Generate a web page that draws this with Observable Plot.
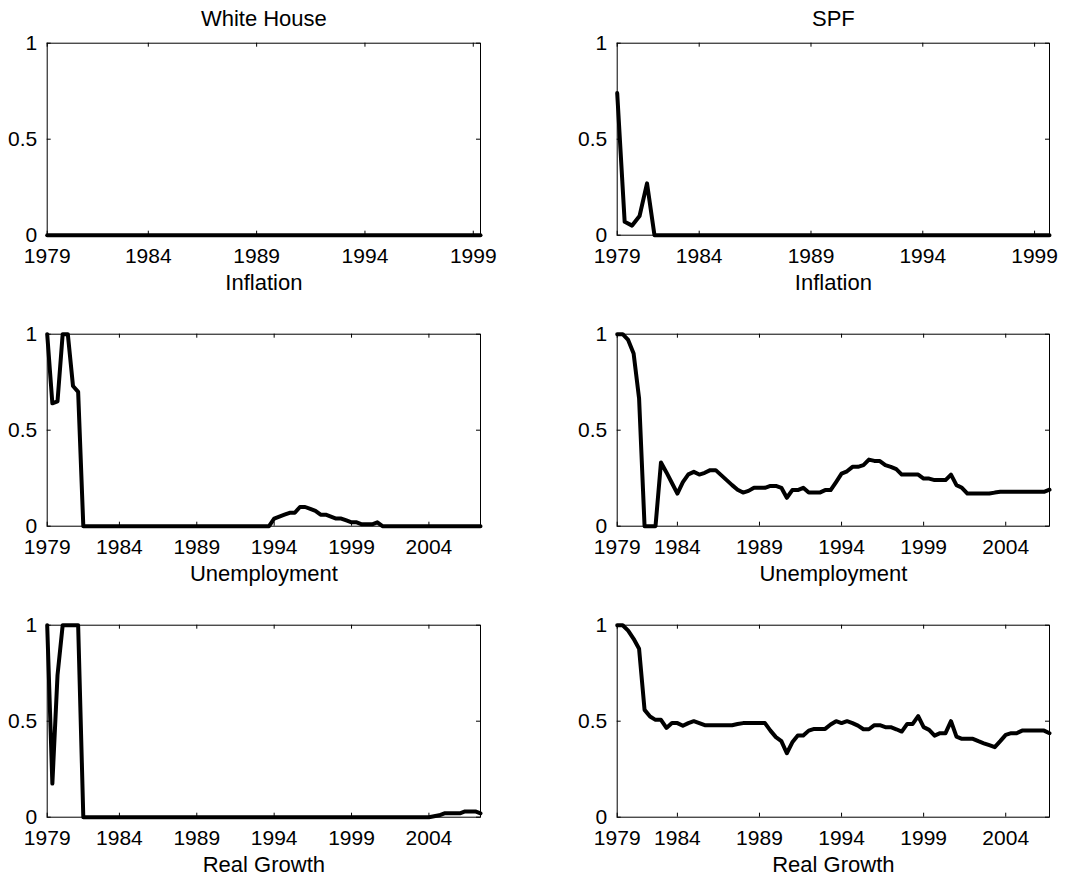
<!DOCTYPE html>
<html><head><meta charset="utf-8">
<script src="https://cdn.jsdelivr.net/npm/d3@7"></script>
<script src="https://cdn.jsdelivr.net/npm/@observablehq/plot@0.6"></script>
<style>
body{margin:0;background:#fff;}
#chart{position:relative;width:1065px;height:879px;background:#fff;}
#chart svg{position:absolute;overflow:visible;background:transparent;}
</style></head><body><div id="chart"></div>
<script>
// ---------- data ----------
const columnTitles = ["White House", "SPF"];
const rowLabels = ["Inflation", "Unemployment", "Real Growth"];
const yTicks = [0, 0.5, 1];
const yTickLabels = ["0", "0.5", "1"];
const xTickLabels = ["1979", "1984", "1989", "1994", "1999", "2004"];
const xTickYears = [1984, 1989, 1994, 1999, 2004];
const obsPerYear = 3;            // observations every third of a year
const whStart = 1979 + 1 / 3;    // first White House observation
const spfStart = 1980 + 1 / 3;   // first SPF observation

const whInflation = [
  0,0,0,0,0,0,0,0,0,0,
  0,0,0,0,0,0,0,0,0,0,
  0,0,0,0,0,0,0,0,0,0,
  0,0,0,0,0,0,0,0,0,0,
  0,0,0,0,0,0,0,0,0,0,
  0,0,0,0,0,0,0,0,0,0,
  0
];
const spfInflation = [
  0.74,0.07,0.05,0.10,0.27,0,
  0,0,0,0,0,0,0,0,0,0,
  0,0,0,0,0,0,0,0,0,0,
  0,0,0,0,0,0,0,0,0,0,
  0,0,0,0,0,0,0,0,0,0,
  0,0,0,0,0,0,0,0,0,0,
  0,0,0
];
const whUnemployment = [
  1,0.64,0.65,1,1,0.73,0.70,0,
  0,0,0,0,0,0,0,0,0,0,
  0,0,0,0,0,0,0,0,0,0,
  0,0,0,0,0,0,0,0,0,0,
  0,0,0,0,0,0,
  0.04,0.05,0.06,0.07,0.07,0.10,0.10,0.09,0.08,0.06,
  0.06,0.05,0.04,0.04,0.03,0.02,0.02,0.01,0.01,0.01,
  0.02,
  0,0,0,0,0,0,0,0,0,0,
  0,0,0,0,0,0,0,0,0,0
];
const spfUnemployment = [
  1,1,0.97,0.90,0.665,0,0,0,0.332,0.28,
  0.225,0.17,0.23,0.27,0.283,0.269,0.278,0.292,0.292,0.266,
  0.24,0.214,0.19,0.175,0.184,0.20,0.20,0.20,0.21,0.21,
  0.20,0.148,0.188,0.188,0.20,0.175,0.175,0.175,0.188,0.188,
  0.23,0.274,0.286,0.309,0.309,0.318,0.347,0.34,0.339,0.318,
  0.309,0.297,0.269,0.269,0.269,0.269,0.248,0.248,0.24,0.24,
  0.24,0.269,0.214,0.20,0.17,0.17,0.17,0.17,0.17,0.175,
  0.179,0.179,0.179,0.179,0.179,0.179,0.179,0.179,0.179,0.19
];
const whGrowth = [
  1,0.175,0.74,1,1,1,1,0,
  0,0,0,0,0,0,0,0,0,0,
  0,0,0,0,0,0,0,0,0,0,
  0,0,0,0,0,0,0,0,0,0,
  0,0,0,0,0,0,0,0,0,0,
  0,0,0,0,0,0,0,0,0,0,
  0,0,0,0,0,0,0,0,0,0,
  0,0,0,0,0,0,0,
  0.005,0.01,0.02,0.02,0.02,0.02,0.03,0.03,0.03,0.02
];
const spfGrowth = [
  1,1,0.972,0.929,0.877,0.559,0.524,0.507,0.507,0.465,
  0.49,0.49,0.476,0.49,0.5,0.49,0.479,0.479,0.479,0.479,
  0.479,0.479,0.485,0.49,0.49,0.49,0.49,0.49,0.451,0.417,
  0.396,0.333,0.39,0.425,0.425,0.451,0.46,0.46,0.46,0.483,
  0.5,0.49,0.5,0.49,0.477,0.458,0.458,0.479,0.479,0.469,
  0.469,0.458,0.446,0.486,0.486,0.526,0.469,0.455,0.425,0.4375,
  0.4375,0.5,0.42,0.408,0.408,0.408,0.396,0.385,0.375,0.365,
  0.396,0.429,0.4375,0.4375,0.451,0.451,0.451,0.451,0.451,0.4375
];

// ---------- layout ----------
const FONT = '"Liberation Sans", Arial, Helvetica, sans-serif';
const colLayout = [
  {left: 0, width: 532, marginLeft: 46.7, marginRight: 52},
  {left: 532, width: 533, marginLeft: 84.7, marginRight: 16}
];
const rowTops = [0, 291.3, 582];
const panelHeight = 293, marginTop = 42.7, marginBottom = 58.3;
const tickLen = 4;

const panels = [
  {row: 0, col: 0, start: whStart, values: whInflation},
  {row: 0, col: 1, start: spfStart, values: spfInflation},
  {row: 1, col: 0, start: whStart, values: whUnemployment},
  {row: 1, col: 1, start: spfStart, values: spfUnemployment},
  {row: 2, col: 0, start: whStart, values: whGrowth},
  {row: 2, col: 1, start: spfStart, values: spfGrowth}
];

const container = document.getElementById("chart");
const yLabelOf = new Map(yTicks.map((t, i) => [t, yTickLabels[i]]));

for (const p of panels) {
  const c = colLayout[p.col];
  const data = p.values.map((v, i) => ({t: p.start + i / obsPerYear, v}));
  const end = data[data.length - 1].t;
  const ticks = [p.start, ...xTickYears.filter(y => y > p.start + 0.5 && y <= end)];
  const xLabelOf = new Map(ticks.map((t, i) => [t, xTickLabels[i]]));
  const fw = c.width - c.marginLeft - c.marginRight;
  const fh = panelHeight - marginTop - marginBottom;
  const marks = [
    Plot.line(data, {x: "t", y: "v", stroke: "black", strokeWidth: 4}),
    Plot.frame({stroke: "black", strokeWidth: 1}),
    Plot.tickX(ticks, {x: d => d, stroke: "black", insetTop: fh - tickLen}),
    Plot.tickX(ticks, {x: d => d, stroke: "black", insetBottom: fh - tickLen}),
    Plot.tickY(yTicks, {y: d => d, stroke: "black", insetRight: fw - tickLen}),
    Plot.tickY(yTicks, {y: d => d, stroke: "black", insetLeft: fw - tickLen}),
    Plot.axisX(ticks, {tickSize: 0, tickPadding: 13, tickFormat: d => xLabelOf.get(d), label: null, fill: "black"}),
    Plot.axisY(yTicks, {tickSize: 0, tickPadding: 10, tickFormat: d => yLabelOf.get(d), label: null, fill: "black"}),
    Plot.text([rowLabels[p.row]], {text: d => d, frameAnchor: "bottom", dy: 55, lineAnchor: "bottom", fontSize: 22, fill: "black"})
  ];
  if (p.row === 0) {
    marks.push(Plot.text([columnTitles[p.col]], {text: d => d, frameAnchor: "top", dy: -17.7, lineAnchor: "bottom", fontSize: 22, fill: "black"}));
  }
  const svg = Plot.plot({
    width: c.width,
    height: panelHeight,
    marginLeft: c.marginLeft,
    marginRight: c.marginRight,
    marginTop,
    marginBottom,
    x: {domain: [p.start, end]},
    y: {domain: [0, 1]},
    style: {fontFamily: FONT, fontSize: "21px", color: "black", background: "transparent", overflow: "visible"},
    marks
  });
  svg.style.left = c.left + "px";
  svg.style.top = rowTops[p.row] + "px";
  container.appendChild(svg);
}
</script>
</body></html>
